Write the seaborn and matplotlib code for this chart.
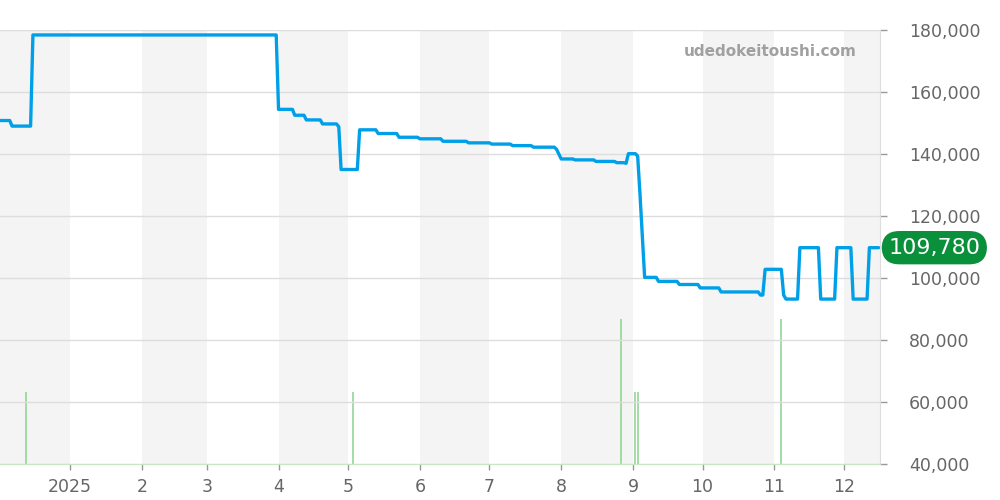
import pandas as pd
import matplotlib.pyplot as plt
from matplotlib.ticker import FuncFormatter
import seaborn as sns

# --- DATA ---
PRICE_DATES = [
    "2024-12-02", "2024-12-06", "2024-12-07", "2024-12-15", "2024-12-16",
    "2025-03-31", "2025-04-01", "2025-04-07", "2025-04-08", "2025-04-12",
    "2025-04-13", "2025-04-19", "2025-04-20", "2025-04-26", "2025-04-27",
    "2025-04-28", "2025-05-05", "2025-05-06", "2025-05-13", "2025-05-14",
    "2025-05-22", "2025-05-23", "2025-05-31", "2025-06-01", "2025-06-10",
    "2025-06-11", "2025-06-21", "2025-06-22", "2025-07-01", "2025-07-02",
    "2025-07-10", "2025-07-11", "2025-07-19", "2025-07-20", "2025-07-29",
    "2025-07-30", "2025-08-01", "2025-08-06", "2025-08-07", "2025-08-15",
    "2025-08-16", "2025-08-24", "2025-08-25", "2025-08-28", "2025-08-29",
    "2025-08-30", "2025-09-02", "2025-09-03", "2025-09-04", "2025-09-06",
    "2025-09-11", "2025-09-12", "2025-09-20", "2025-09-21", "2025-09-29",
    "2025-09-30", "2025-10-08", "2025-10-09", "2025-10-25", "2025-10-26",
    "2025-10-27", "2025-10-28", "2025-11-04", "2025-11-05", "2025-11-06",
    "2025-11-11", "2025-11-12", "2025-11-20", "2025-11-21", "2025-11-27",
    "2025-11-28", "2025-12-04", "2025-12-05", "2025-12-11", "2025-12-12",
    "2025-12-16",
]
PRICES = [
    150800, 150800, 149000, 149000, 178400,
    178400, 154400, 154400, 152500, 152500,
    151000, 151000, 149700, 149700, 148800,
    135000, 135000, 147800, 147800, 146600,
    146600, 145400, 145400, 144900, 144900,
    144100, 144100, 143600, 143600, 143200,
    143200, 142700, 142700, 142200, 142200,
    141500, 138400, 138400, 138100, 138100,
    137600, 137600, 137200, 137200, 137000,
    140100, 140100, 139300, 127000, 100200,
    100200, 98900, 98900, 97900, 97900,
    96800, 96800, 95500, 95500, 94500,
    94500, 102800, 102800, 94500, 93200,
    93200, 109780, 109780, 93200, 93200,
    109780, 109780, 93200, 93200, 109780,
    109780,
]

VOLUME_DATES = ["2024-12-13", "2025-05-03", "2025-08-27", "2025-09-02", "2025-09-03", "2025-11-04"]
VOLUMES = [1, 1, 2, 1, 1, 2]

MONTH_TICKS = pd.date_range("2025-01-01", "2025-12-01", freq="MS")
MONTH_LABELS = ["2025", "2", "3", "4", "5", "6", "7", "8", "9", "10", "11", "12"]
SHADED_MONTHS = ["2024-12-01", "2025-02-01", "2025-04-01", "2025-06-01",
                 "2025-08-01", "2025-10-01", "2025-12-01"]

LAST_PRICE = 109780
# -------------------------------------

df = pd.DataFrame({"date": pd.to_datetime(PRICE_DATES), "price": PRICES})
vol = pd.DataFrame({"date": pd.to_datetime(VOLUME_DATES), "volume": VOLUMES})

sns.set_style("white")
plt.rcParams['font.family'] = ['DejaVu Sans']

fig = plt.figure(figsize=(10, 5), dpi=100)
ax = fig.add_axes([0, 0.072, 0.88, 0.868])
ax2 = ax.twinx()

# volume + month shading live on the lower axes
for start in SHADED_MONTHS:
    s = pd.Timestamp(start)
    ax2.axvspan(s, s + pd.offsets.MonthBegin(1), color="#f4f4f4", lw=0, zorder=0)
ax2.vlines(vol["date"], 0, vol["volume"], color="#95d696", linewidth=1.2, zorder=2)
ax2.set_ylim(0, 6)
ax2.set_yticks([])
for sp in ax2.spines.values():
    sp.set_visible(False)

ax.set_zorder(ax2.get_zorder() + 1)
ax.patch.set_visible(False)

sns.lineplot(data=df, x="date", y="price", ax=ax, color="#00a0e9",
             linewidth=2.4, estimator=None, sort=False, zorder=3)

ax.set_xlim(pd.Timestamp("2024-12-01 19:00"), pd.Timestamp("2025-12-16 14:00"))
ax.set_ylim(40000, 180000)
ax.set_xlabel("")
ax.set_ylabel("")

ax.set_xticks(MONTH_TICKS)
ax.set_xticklabels(MONTH_LABELS)
ax.set_yticks(range(40000, 180001, 20000))
ax.yaxis.set_major_formatter(FuncFormatter(lambda v, p: f"{v:,.0f}"))
ax.yaxis.tick_right()
ax.tick_params(axis="y", which="both", right=True, left=False, labelright=True,
               labelleft=False, length=5, width=1, color="#999999", pad=16,
               labelsize=12.5, labelcolor="#666666")
ax.tick_params(axis="x", bottom=True, length=4, width=1, color="#999999",
               pad=6, labelsize=12.5, labelcolor="#666666")

ax.grid(axis="y", color="#dddddd", linewidth=1)
ax.grid(axis="x", visible=False)

for side in ["top", "left"]:
    ax.spines[side].set_visible(False)
ax.spines["right"].set_color("#dddddd")
ax.spines["bottom"].set_color("#c6e6c6")
ax.spines["bottom"].set_linestyle((0, (1, 1)))

# last price pill
ax.annotate(f"{LAST_PRICE:,}", xy=(1.0, LAST_PRICE),
            xycoords=("axes fraction", "data"), xytext=(6, 0),
            textcoords="offset points", ha="left", va="center",
            color="white", fontsize=16, annotation_clip=False,
            bbox=dict(boxstyle="round,pad=0.3,rounding_size=0.8",
                      fc="#0a8f3a", ec="none"))

# watermark
ax.text(0.974, 173200, "udedokeitoushi.com", transform=ax.get_yaxis_transform(),
        ha="right", va="center", fontsize=11, fontweight="bold", color="#a0a0a0")

plt.savefig("out.png", dpi=100)
